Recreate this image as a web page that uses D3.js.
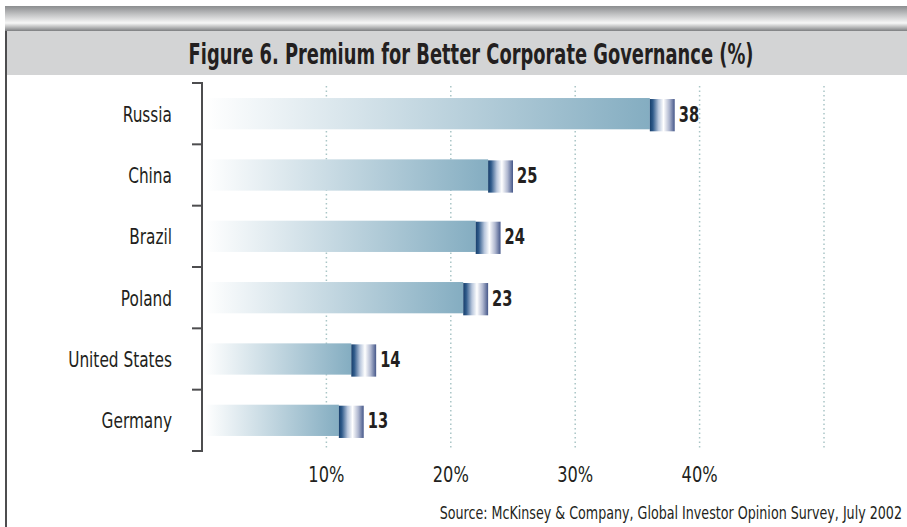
<!DOCTYPE html>
<html>
<head>
<meta charset="utf-8">
<script src="https://cdn.jsdelivr.net/npm/d3@7"></script>
<style>
  html, body { margin: 0; padding: 0; background: #fff; }
  svg { display: block; }
  text { font-family: "Liberation Sans Narrow", "DejaVu Sans Condensed", "DejaVu Sans", sans-serif; font-stretch: condensed; fill: #231f20; }
</style>
</head>
<body>
<svg id="chart" width="907" height="527"></svg>
<script>
const countries = ["Russia", "China", "Brazil", "Poland", "United States", "Germany"];
const premium = [38, 25, 24, 23, 14, 13];
const tickValues = [10, 20, 30, 40, 50];
const tickLabels = ["10%", "20%", "30%", "40%", ""];
const capWidth = 2; // units of the end cap

const svg = d3.select("#chart");
const W = 907, H = 527;
const defs = svg.append("defs");

// squeeze text horizontally to mimic the condensed face
const at = (px, py, sx) => `translate(${px},${py}) scale(${sx},1)`;

// metallic top band
const metal = defs.append("linearGradient").attr("id", "metal")
    .attr("x1", 0).attr("y1", 0).attr("x2", 0).attr("y2", 1);
[[0, "#8b8d8f"], [0.35, "#c4c5c6"], [0.68, "#f7f7f7"], [0.85, "#b8b9ba"], [1, "#7d7f81"]]
    .forEach(s => metal.append("stop").attr("offset", s[0]).attr("stop-color", s[1]));

// bar body fading from white
const body = defs.append("linearGradient").attr("id", "body");
body.append("stop").attr("offset", 0).attr("stop-color", "#ffffff");
body.append("stop").attr("offset", 1).attr("stop-color", "#84adc1");

// end cap
const cap = defs.append("linearGradient").attr("id", "cap");
[[0, "#173f6b"], [0.12, "#2f5a8a"], [0.35, "#b8c6dc"], [0.55, "#ffffff"], [0.78, "#b0b8d0"], [1, "#46588a"]]
    .forEach(s => cap.append("stop").attr("offset", s[0]).attr("stop-color", s[1]));

// frame
svg.append("rect").attr("x", 5).attr("y", 6).attr("width", W - 5).attr("height", 25).attr("fill", "url(#metal)");
svg.append("rect").attr("x", 5).attr("y", 31).attr("width", W - 5).attr("height", 44).attr("fill", "#d3d4d5");
svg.append("line").attr("x1", 6).attr("x2", 6).attr("y1", 31).attr("y2", H)
    .attr("stroke", "#4d4d4f").attr("stroke-width", 2);

svg.append("text").attr("transform", at(471, 64, 0.685)).attr("text-anchor", "middle")
    .style("font-size", "29px").style("font-weight", "bold")
    .text("Figure 6. Premium for Better Corporate Governance (%)");

const x = d3.scaleLinear().domain([0, 50]).range([202, 824]);
const y = d3.scaleBand().domain(countries).range([83, 451]).paddingInner(0.49).paddingOuter(0.245);
const yEdge = d3.scaleBand().domain(countries).range([83, 451]).padding(0);

// gridlines
svg.append("g").selectAll("line").data(tickValues).join("line")
    .attr("x1", d => x(d)).attr("x2", d => x(d))
    .attr("y1", 86).attr("y2", 448)
    .attr("stroke", "#a9c5c6").attr("stroke-width", 1.5).attr("stroke-dasharray", "1.5,3");

// axis bracket
const axis = svg.append("g").attr("stroke", "#4d4d4f").attr("stroke-width", 2);
axis.append("line").attr("x1", x(0)).attr("x2", x(0)).attr("y1", 83).attr("y2", 451);
axis.selectAll(".tk").data(countries.map(c => yEdge(c)).concat([451])).join("line")
    .attr("class", "tk")
    .attr("x1", x(0) - 10).attr("x2", x(0) + 1).attr("y1", d => d).attr("y2", d => d);

const rows = countries.map((c, i) => ({ c, v: premium[i] }));

// bar bodies
svg.append("g").selectAll("rect").data(rows).join("rect")
    .attr("x", x(0) + 3).attr("y", d => y(d.c))
    .attr("width", d => x(d.v - capWidth) - x(0) - 3).attr("height", y.bandwidth())
    .attr("fill", "url(#body)");

// caps
svg.append("g").selectAll("rect").data(rows).join("rect")
    .attr("x", d => x(d.v - capWidth)).attr("y", d => y(d.c) + 1)
    .attr("width", x(capWidth) - x(0)).attr("height", y.bandwidth() + 1)
    .attr("fill", "url(#cap)");

// value labels
svg.append("g").selectAll("text").data(rows).join("text")
    .attr("transform", d => at(x(d.v) + 4, y(d.c) + y.bandwidth() / 2 + 8, 0.74))
    .style("font-size", "22px").style("font-weight", "bold")
    .text(d => d.v);

// category labels
svg.append("g").selectAll("text").data(countries).join("text")
    .attr("transform", d => at(172, y(d) + y.bandwidth() / 2 + 8, 0.775))
    .attr("text-anchor", "end").style("font-size", "22px")
    .text(d => d);

// x tick labels
svg.append("g").selectAll("text").data(tickValues).join("text")
    .attr("transform", d => at(x(d), 482, 0.82)).attr("text-anchor", "middle")
    .style("font-size", "22px")
    .text((d, i) => tickLabels[i]);

svg.append("text").attr("transform", at(902, 519, 0.83)).attr("text-anchor", "end")
    .style("font-size", "17px")
    .text("Source: McKinsey & Company, Global Investor Opinion Survey, July 2002");
</script>
</body>
</html>
